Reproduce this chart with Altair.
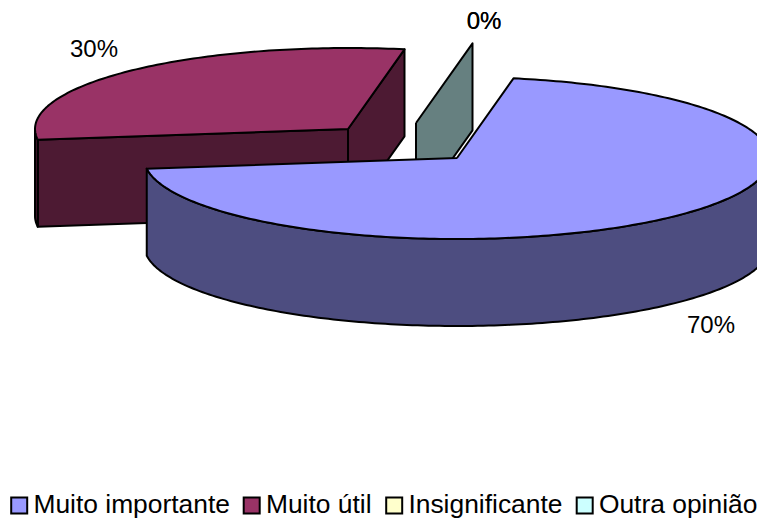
import math
import altair as alt
import pandas as pd

categories = ["Muito importante", "Muito útil", "Insignificante", "Outra opinião"]
values = [70, 30, 0, 0]
top_colors = ["#9999FF", "#993366", "#FFFFCC", "#CCFFFF"]
wall_colors = ["#4D4D80", "#4D1A33", "#808066", "#668080"]
center_x = [457, 348, 416, 416]
center_y = [158, 129, 123, 123]
label_x = [711, 94, 484, 484]
label_y = [326, 50, 22, 22]
label_text = ["70%", "30%", "0%", "0%"]

RX, RY, DEPTH, START = 313, 81, 87, 10.4
FONT = "Liberation Sans"
W, H = 749, 512
X_SCALE = alt.Scale(domain=[8, 8 + W], nice=False, zero=False)
Y_SCALE = alt.Scale(domain=[8 + H, 8], nice=False, zero=False)


def pt(k, deg, drop=0):
    r = math.radians(deg)
    return (center_x[k] + RX * math.sin(r), center_y[k] - RY * math.cos(r) + drop)


def arc(k, a, b, drop=0):
    n = max(2, int(abs(b - a)) + 1)
    return [pt(k, a + (b - a) * i / (n - 1), drop) for i in range(n)]


def apex(k, drop=0):
    return (center_x[k], center_y[k] + drop)


def poly(points, fill):
    pts = list(points) + [points[0]]
    df = pd.DataFrame({"x": [p[0] for p in pts], "y": [p[1] for p in pts], "i": range(len(pts))})
    return (
        alt.Chart(df)
        .mark_line(fill=fill, stroke="black", strokeWidth=2, strokeJoin="round", clip=True)
        .encode(
            x=alt.X("x:Q", scale=X_SCALE, axis=None),
            y=alt.Y("y:Q", scale=Y_SCALE, axis=None),
            order="i:Q",
        )
    )


a0 = START
a1 = a0 + values[0] * 3.6
a2 = a1 + values[1] * 3.6

layers = []
# Muito útil
layers.append(poly([apex(1), pt(1, a2), pt(1, a2, DEPTH), apex(1, DEPTH)], wall_colors[1]))
layers.append(poly([apex(1), pt(1, a1), pt(1, a1, DEPTH), apex(1, DEPTH)], wall_colors[1]))
layers.append(poly(arc(1, a1, 270) + arc(1, 270, a1, DEPTH), wall_colors[1]))
layers.append(poly([apex(1)] + arc(1, a1, a2), top_colors[1]))
# zero slices
layers.append(poly([apex(2), pt(2, a0), pt(2, a0, DEPTH), apex(2, DEPTH)], wall_colors[3]))
# Muito importante
layers.append(poly(arc(0, 90, a1) + arc(0, a1, 90, DEPTH), wall_colors[0]))
layers.append(poly([apex(0)] + arc(0, a0, a1), top_colors[0]))

labels = (
    alt.Chart(pd.DataFrame({"x": label_x, "y": label_y, "t": label_text, "k": range(4)}))
    .mark_text(font=FONT, fontSize=24, color="black", align="center", baseline="middle")
    .encode(
        x=alt.X("x:Q", scale=X_SCALE, axis=None),
        y=alt.Y("y:Q", scale=Y_SCALE, axis=None),
        text="t:N",
        detail="k:N",
    )
)

legend_layer = (
    alt.Chart(pd.DataFrame({"c": categories, "x": [8, 8, 8, 8], "y": [8, 8, 8, 8]}))
    .mark_square(opacity=0)
    .encode(
        x=alt.X("x:Q", scale=X_SCALE, axis=None),
        y=alt.Y("y:Q", scale=Y_SCALE, axis=None),
        color=alt.Color(
            "c:N",
            scale=alt.Scale(domain=categories, range=top_colors),
            legend=alt.Legend(
                title=None,
                orient="none",
                direction="horizontal",
                columns=4,
                legendX=-2,
                legendY=484,
                symbolType="square",
                symbolSize=256,
                symbolOpacity=1,
                symbolStrokeColor="black",
                symbolStrokeWidth=2,
                labelFont=FONT,
                labelFontSize=26.4,
                labelColor="black",
                labelOffset=1,
                columnPadding=8.5,
                labelLimit=300,
            ),
        ),
    )
)

chart = (
    alt.layer(*layers, labels, legend_layer)
    .properties(width=W, height=H, autosize=alt.AutoSizeParams(type="none"), padding=0)
    .configure_view(stroke=None)
)
chart.save("out.html", embed_options={"renderer": "svg", "actions": False})
